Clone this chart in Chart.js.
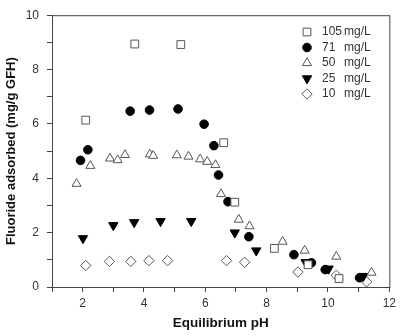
<!DOCTYPE html>
<html>
<head>
<meta charset="utf-8">
<script src="https://cdn.jsdelivr.net/npm/chart.js@4/dist/chart.umd.min.js"></script>
<style>
  html, body { margin: 0; padding: 0; background: #fff; }
  #wrap { width: 400px; height: 336px; }
</style>
</head>
<body>
<div id="wrap"><canvas id="fluorideChart" width="400" height="336"></canvas></div>
<script>
// Series: equilibrium pH (x) vs fluoride adsorbed (y), one pair per initial concentration
const seriesLabels = ['105', '71', '50', '25', '10'];

const ph105 = [2.10, 3.70, 5.20, 6.60, 6.96, 8.25, 9.35, 10.36];
const q105  = [6.14, 8.94, 8.92, 5.31, 3.12, 1.42, 0.82, 0.31];

const ph71 = [1.93, 2.17, 3.55, 4.18, 5.11, 5.96, 6.28, 6.43, 6.74, 7.42, 8.89, 9.46, 9.91, 11.03];
const q71  = [4.66, 5.05, 6.47, 6.51, 6.55, 5.99, 5.20, 4.12, 3.14, 1.85, 1.19, 0.89, 0.64, 0.34];

const ph50 = [1.80, 2.25, 2.89, 3.14, 3.38, 4.19, 4.30, 5.07, 5.45, 5.83, 6.06, 6.33, 6.51, 7.09, 7.44, 8.52, 9.24, 10.27, 11.42];
const q50  = [3.80, 4.46, 4.73, 4.67, 4.86, 4.88, 4.83, 4.85, 4.80, 4.70, 4.61, 4.49, 3.42, 2.48, 2.24, 1.67, 1.34, 1.12, 0.53];

const ph25 = [2.01, 3.00, 3.68, 4.54, 5.54, 6.96, 7.66, 9.27, 10.02, 11.15];
const q25  = [1.79, 2.27, 2.38, 2.42, 2.42, 2.00, 1.34, 0.91, 0.67, 0.40];

const ph10 = [2.10, 2.87, 3.57, 4.16, 4.77, 6.69, 7.28, 9.02, 10.27, 11.26];
const q10  = [0.79, 0.94, 0.94, 0.97, 0.97, 0.97, 0.91, 0.55, 0.43, 0.19];

// Axis ranges / tick labels
const xMin = 1, xMax = 12;
const yMin = 0, yMax = 10;
const labelEvery = 2;

const FONT = "'Liberation Sans', Arial, sans-serif";
const AXIS_COLOR = '#444';

function toPoints(xs, ys) {
    return xs.map((x, i) => ({ x: x, y: ys[i] }));
}

// Marker styles for each series
const markers = [
    { pointStyle: 'rect',     radius: 5.5, rotation: 0,   fill: '#fff', stroke: '#555' },
    { pointStyle: 'circle',   radius: 4.3, rotation: 0,   fill: '#000', stroke: '#000' },
    { pointStyle: 'triangle', radius: 5.2, rotation: 0,   fill: '#fff', stroke: '#555' },
    { pointStyle: 'triangle', radius: 5.4, rotation: 180, fill: '#000', stroke: '#000' },
    { pointStyle: 'rectRot',  radius: 5.2, rotation: 0,   fill: '#fff', stroke: '#555' }
];

const seriesData = [
    toPoints(ph105, q105),
    toPoints(ph71, q71),
    toPoints(ph50, q50),
    toPoints(ph25, q25),
    toPoints(ph10, q10)
];

const datasets = seriesData.map((pts, i) => ({
    label: seriesLabels[i] + ' mg/L',
    data: pts,
    pointStyle: markers[i].pointStyle,
    pointRadius: markers[i].radius,
    pointRotation: markers[i].rotation,
    pointBackgroundColor: markers[i].fill,
    pointBorderColor: markers[i].stroke,
    pointBorderWidth: 1,
    showLine: false
}));

// Box around the plot area (top and right edges)
const framePlugin = {
    id: 'frame',
    beforeDatasetsDraw(chart) {
        const { ctx, chartArea: a } = chart;
        ctx.save();
        ctx.strokeStyle = AXIS_COLOR;
        ctx.lineWidth = 1;
        ctx.strokeRect(a.left + 0.5, a.top + 0.5, a.right - a.left, a.bottom - a.top);
        ctx.restore();
    }
};

// Legend inside the plot, top right, number and unit in two columns
const legendPlugin = {
    id: 'insideLegend',
    afterDatasetsDraw(chart) {
        const ctx = chart.ctx;
        const markerX = 307;
        const numX = 322;
        const unitX = 344;
        const startY = 32;
        const rowH = 15.5;
        ctx.save();
        ctx.font = '12px ' + FONT;
        ctx.textBaseline = 'middle';
        ctx.textAlign = 'left';
        seriesLabels.forEach((lab, i) => {
            const y = startY + i * rowH;
            const m = markers[i];
            ctx.fillStyle = m.fill;
            ctx.strokeStyle = m.stroke;
            ctx.lineWidth = 1;
            Chart.helpers.drawPoint(ctx, {
                pointStyle: m.pointStyle,
                radius: m.radius,
                rotation: m.rotation,
                borderWidth: 1
            }, markerX, y);
            ctx.fillStyle = '#333';
            ctx.fillText(lab, numX, y);
            ctx.fillText('mg/L', unitX, y);
        });
        ctx.restore();
    }
};

new Chart(document.getElementById('fluorideChart'), {
    type: 'scatter',
    data: { datasets: datasets },
    options: {
        responsive: false,
        animation: false,
        layout: { padding: { left: 0, right: 7, top: 10, bottom: 0 } },
        plugins: {
            legend: { display: false },
            tooltip: { enabled: false }
        },
        scales: {
            x: {
                type: 'linear',
                min: xMin,
                max: xMax,
                afterFit(scale) { scale.height = 49; },
                border: { display: true, color: AXIS_COLOR, width: 1 },
                grid: {
                    drawOnChartArea: false,
                    drawTicks: true,
                    tickLength: 5,
                    color: AXIS_COLOR
                },
                ticks: {
                    stepSize: 1,
                    autoSkip: false,
                    maxRotation: 0,
                    padding: 4,
                    color: '#333',
                    font: { family: FONT, size: 12 },
                    callback: v => (v % labelEvery === 0 ? v : '')
                },
                title: {
                    display: true,
                    text: 'Equilibrium pH',
                    color: '#111',
                    font: { family: FONT, size: 13.5, weight: 'bold' },
                    padding: { top: 0, bottom: 5 }
                }
            },
            y: {
                type: 'linear',
                min: yMin,
                max: yMax,
                afterFit(scale) { scale.width = 52; },
                border: { display: true, color: AXIS_COLOR, width: 1 },
                grid: {
                    drawOnChartArea: false,
                    drawTicks: true,
                    tickLength: 5,
                    color: AXIS_COLOR
                },
                ticks: {
                    stepSize: 1,
                    autoSkip: false,
                    padding: 8,
                    color: '#333',
                    font: { family: FONT, size: 12 },
                    callback: v => (v % labelEvery === 0 ? v : '')
                },
                title: {
                    display: true,
                    text: 'Fluoride adsorbed (mg/g GFH)',
                    color: '#111',
                    font: { family: FONT, size: 13, weight: 'bold' },
                    padding: { top: 4, bottom: 0 }
                }
            }
        }
    },
    plugins: [framePlugin, legendPlugin]
});
</script>
</body>
</html>
